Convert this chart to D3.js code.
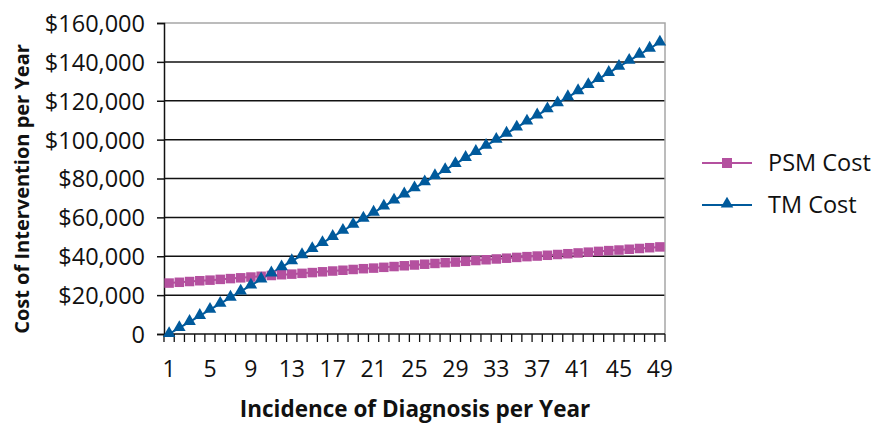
<!DOCTYPE html>
<html><head><meta charset="utf-8">
<script src="https://cdn.jsdelivr.net/npm/d3@7"></script>
<style>body{margin:0;background:#fff}svg{display:block}text{font-family:"Open Sans",Lato,sans-serif;fill:#111}</style>
</head><body><svg id="c" width="871" height="424"></svg>
<script>
const categories = [1,2,3,4,5,6,7,8,9,10,11,12,13,14,15,16,17,18,19,20,21,22,23,24,25,26,27,28,29,30,31,32,33,34,35,36,37,38,39,40,41,42,43,44,45,46,47,48,49];
const psmCost = [26200,26600,27000,27400,27700,28100,28500,28900,29300,29700,30100,30500,30800,31200,31600,32000,32400,32800,33200,33600,33900,34300,34700,35100,35500,35900,36300,36700,37000,37400,37800,38200,38600,39000,39400,39800,40100,40500,40900,41300,41700,42100,42500,42900,43200,43600,44000,44400,44800];
const tmCost = [0,3125,6250,9375,12500,15625,18750,21875,25000,28125,31250,34375,37500,40625,43750,46875,50000,53125,56250,59375,62500,65625,68750,71875,75000,78125,81250,84375,87500,90625,93750,96875,100000,103125,106250,109375,112500,115625,118750,121875,125000,128125,131250,134375,137500,140625,143750,146875,150000];
const yTicks = [0,20000,40000,60000,80000,100000,120000,140000,160000];
const yTickLabels = ["0","$20,000","$40,000","$60,000","$80,000","$100,000","$120,000","$140,000","$160,000"];
const xTickLabels = [1,5,9,13,17,21,25,29,33,37,41,45,49];
const seriesNames = ["PSM Cost","TM Cost"];
const colors = ["#b4509f","#005a9c"];

const svg = d3.select("#c");
const L=164, R=665, T=23, B=334;
const x = d3.scaleBand().domain(categories).range([L,R]).padding(0);
const y = d3.scaleLinear().domain([0,160000]).range([B,T]);
const cx = d => x(d)+x.bandwidth()/2;

// gridlines
svg.append("g").selectAll("line").data(yTicks.filter(v=>v>0&&v<160000)).join("line")
  .attr("x1",L).attr("x2",R).attr("y1",d=>y(d)).attr("y2",d=>y(d))
  .attr("stroke","#111").attr("stroke-width",1.5);
// plot border top/right
svg.append("path").attr("d",`M${L},${T}H${R}V${B}`).attr("fill","none").attr("stroke","#a6a6a6").attr("stroke-width",1.5);

// y axis
const yAxis = d3.axisLeft(y).tickValues(yTicks).tickSize(7).tickFormat((d,i)=>yTickLabels[i]);
const gy = svg.append("g").attr("transform",`translate(${L},0)`).call(yAxis);
gy.select(".domain").attr("stroke","#111").attr("stroke-width",1.5);
gy.selectAll(".tick line").attr("stroke","#111").attr("stroke-width",1.5);
gy.selectAll(".tick text").attr("x",-19).attr("dy","0.36em").attr("font-size",23.5).style("font-family","'Open Sans',sans-serif").attr("fill","#111");

// x axis: ticks at band boundaries
const gx = svg.append("g").attr("transform",`translate(0,${B})`);
gx.append("line").attr("x1",L).attr("x2",R).attr("stroke","#111").attr("stroke-width",1.5);
const bounds = categories.map(c=>x(c)).concat([R]);
gx.selectAll("line.t").data(bounds).join("line").attr("class","t")
  .attr("x1",d=>d).attr("x2",d=>d).attr("y1",0).attr("y2",8).attr("stroke","#111").attr("stroke-width",1.3);
gx.selectAll("text").data(xTickLabels).join("text")
  .attr("x",d=>cx(d)).attr("y",43).attr("text-anchor","middle").attr("font-size",23).text(d=>d);

// lines
const line = d3.line().x((d,i)=>cx(categories[i])).y(d=>y(d));
[psmCost, tmCost].forEach((s,k)=>{
  svg.append("path").datum(s).attr("d",line).attr("fill","none").attr("stroke",colors[k]).attr("stroke-width",2);
});
svg.append("g").selectAll("rect").data(psmCost).join("rect")
  .attr("x",(d,i)=>cx(categories[i])-4.75).attr("y",d=>y(d)-4.75).attr("width",9.5).attr("height",9.5).attr("fill",colors[0]);
const tri = d3.symbol().type(d3.symbolTriangle).size(68);
svg.append("g").selectAll("path").data(tmCost).join("path")
  .attr("d",tri).attr("transform",(d,i)=>`translate(${cx(categories[i])},${y(d)-0.5})`).attr("fill",colors[1]);

// axis titles
svg.append("text").attr("x",415).attr("y",417).attr("text-anchor","middle").attr("font-size",22.5).attr("font-weight","bold").text("Incidence of Diagnosis per Year");
svg.append("text").attr("transform","translate(29,189) rotate(-90)").attr("text-anchor","middle").attr("font-size",20).attr("font-weight","bold").text("Cost of Intervention per Year");

// legend
const lg = svg.append("g");
[0,1].forEach(k=>{
  const yy = 163 + k*42;
  lg.append("line").attr("x1",702).attr("x2",752).attr("y1",yy).attr("y2",yy).attr("stroke",colors[k]).attr("stroke-width",2);
  if(k===0) lg.append("rect").attr("x",722).attr("y",yy-5).attr("width",10).attr("height",10).attr("fill",colors[0]);
  else lg.append("path").attr("d",tri).attr("transform",`translate(727,${yy-1})`).attr("fill",colors[1]);
  lg.append("text").attr("x",768).attr("y",yy+8).attr("font-size",23.5).text(seriesNames[k]);
});
</script></body></html>
